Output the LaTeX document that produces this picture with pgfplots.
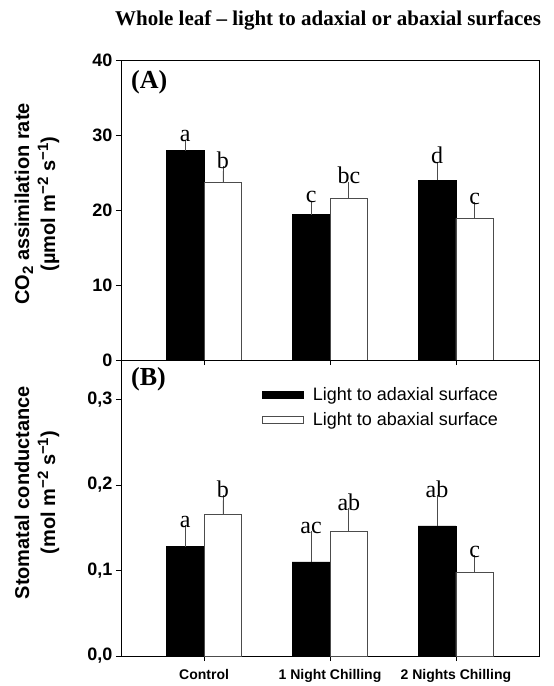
\documentclass[border=0pt]{standalone}
\usepackage{fontspec}
\setmainfont{Liberation Serif}
\setsansfont{Liberation Sans}
\usepackage{pgfplots}
\usepackage{pgfplotstable}
\pgfplotsset{compat=1.18}

\pgfplotstableread{
x y e lab
0 27.9 0.8 a
1 19.4 1.2 c
2 24.0 1.8 d
}\Aad
\pgfplotstableread{
x y e lab
0 23.7 1.5 b
1 21.5 1.6 bc
2 18.9 1.5 c
}\Aab
\pgfplotstableread{
x y e lab
0 0.128 0.019 a
1 0.110 0.030 ac
2 0.152 0.030 ab
}\Bad
\pgfplotstableread{
x y e lab
0 0.165 0.017 b
1 0.146 0.021 ab
2 0.098 0.014 c
}\Bab

\newcommand\tickfont{\sffamily\bfseries\fontsize{18}{21}\selectfont}
\newcommand\labfont{\sffamily\bfseries\fontsize{20}{26}\selectfont}
\newcommand\letfont{\rmfamily\fontsize{24}{26}\selectfont}
\newcommand\sups[1]{\raisebox{7pt}{\fontsize{15}{15}\selectfont #1}}
\newcommand\subs[1]{\raisebox{-4pt}{\fontsize{15}{15}\selectfont #1}}

\pgfplotsset{
  panel/.style={
    scale only axis, width=418pt,
    xmin=-0.66, xmax=2.66,
    xtick={0,1,2},
    tick align=outside, xtick pos=bottom, ytick pos=left,
    major tick length=5pt,
    axis line style={line width=0.8pt, black},
    every tick/.style={line width=0.8pt, black},
    tick label style={font=\tickfont},
    /pgf/number format/assume math mode=true,
    clip=false,
  },
  errs/.style={error bars/.cd, y dir=plus, y explicit, error mark=-,
    error bar style={line width=0.8pt, black!70},
    error mark options={line width=0.8pt, black!70, mark size=5pt, rotate=0}, /pgfplots/.cd},
  adbar/.style={ybar, bar width=0.3, bar shift=0, fill=black, draw=black, line width=0.6pt, errs},
  abbar/.style={ybar, bar width=0.3, bar shift=0, fill=white, draw=black!70, line width=0.8pt, errs},
  letters/.style={draw=none, mark=none, forget plot, nodes near coords, point meta=explicit symbolic,
    nodes near coords style={font=\letfont, anchor=south, inner sep=0.5pt, yshift=2pt, text=black}},
}

\begin{document}
\begin{tikzpicture}
\path[use as bounding box] (0pt,0pt) rectangle (554pt,-686pt);
\node[font=\rmfamily\bfseries\fontsize{21}{24}\selectfont] at (328pt,-20pt) {Whole leaf -- light to adaxial or abaxial surfaces};

\begin{axis}[panel, at={(121pt,-360pt)}, anchor=south west, height=300pt,
  ymin=0, ymax=40, ytick={0,10,20,30,40}, xticklabels={},
  every axis y label/.style={at={(axis description cs:-0.201,0.52)}, rotate=90, anchor=center, align=center, font=\labfont},
  ylabel={CO\subs{2} assimilation rate\\(µmol m\sups{−2} s\sups{−1})}]
\addplot[adbar] table[x expr=\thisrow{x}-0.15, y=y, y error=e] {\Aad};
\addplot[abbar] table[x expr=\thisrow{x}+0.15, y=y, y error=e] {\Aab};
\addplot[letters] table[x expr=\thisrow{x}-0.15, y expr=\thisrow{y}+\thisrow{e}, meta=lab] {\Aad};
\addplot[letters] table[x expr=\thisrow{x}+0.15, y expr=\thisrow{y}+\thisrow{e}, meta=lab] {\Aab};
\node[font=\rmfamily\bfseries\fontsize{26}{30}\selectfont, anchor=west, inner sep=0pt] at (axis description cs:0.024,0.927) {(A)};
\end{axis}

\begin{axis}[panel, at={(121pt,-656pt)}, anchor=south west, height=296pt,
  ymin=0, ymax=0.346, ytick={0,0.1,0.2,0.3},
  yticklabel style={/pgf/number format/.cd, fixed, fixed zerofill, precision=1, use comma},
  xticklabels={Control, 1 Night Chilling, 2 Nights Chilling},
  xticklabel style={font=\sffamily\bfseries\fontsize{14}{16}\selectfont, yshift=-5pt},
  every axis y label/.style={at={(axis description cs:-0.201,0.552)}, rotate=90, anchor=center, align=center, font=\labfont},
  ylabel={Stomatal conductance\\(mol m\sups{−2} s\sups{−1})},
  legend style={at={(axis description cs:0.337,0.915)}, anchor=north west, draw=none, fill=none,
    font=\sffamily\fontsize{18}{21}\selectfont, row sep=6.5pt, inner sep=0pt},
  legend cell align=left]
\addplot[legend image code/.code={\draw[fill=black, draw=black, line width=0.6pt] (0pt,-3.5pt) rectangle (41pt,3.5pt); \path (48pt,0pt);}, adbar] table[x expr=\thisrow{x}-0.15, y=y, y error=e] {\Bad};
\addlegendentry{Light to adaxial surface}
\addplot[legend image code/.code={\draw[fill=white, draw=black!70, line width=0.8pt] (0pt,-3.5pt) rectangle (41pt,3.5pt); \path (48pt,0pt);}, abbar] table[x expr=\thisrow{x}+0.15, y=y, y error=e] {\Bab};
\addlegendentry{Light to abaxial surface}
\addplot[letters] table[x expr=\thisrow{x}-0.15, y expr=\thisrow{y}+\thisrow{e}, meta=lab] {\Bad};
\addplot[letters] table[x expr=\thisrow{x}+0.15, y expr=\thisrow{y}+\thisrow{e}, meta=lab] {\Bab};
\node[font=\rmfamily\bfseries\fontsize{26}{30}\selectfont, anchor=west, inner sep=0pt] at (axis description cs:0.024,0.936) {(B)};
\end{axis}
\end{tikzpicture}
\end{document}
